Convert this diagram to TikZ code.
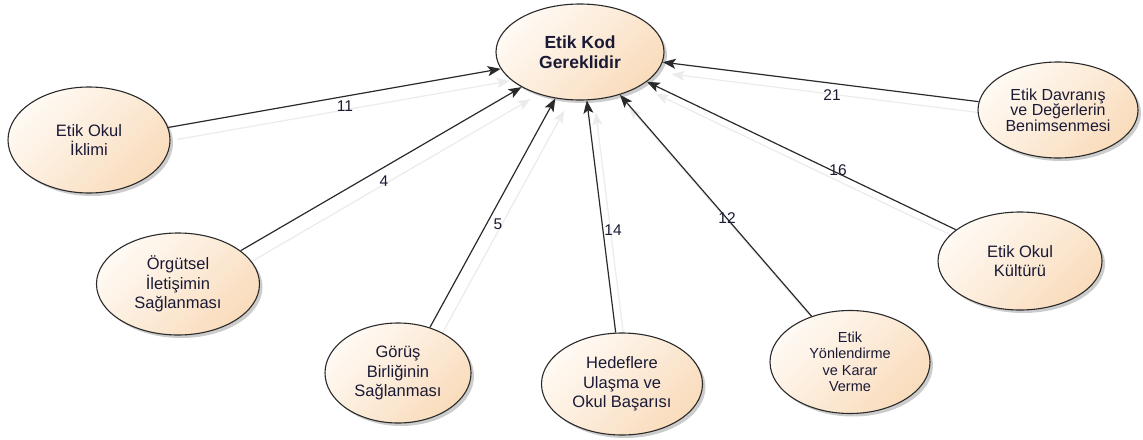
\documentclass[tikz,border=0pt]{standalone}
\usepackage{fontspec}
\setmainfont{Liberation Sans}
\usetikzlibrary{shapes.geometric,arrows.meta,shadows}
\pgfdeclarelayer{bg}
\pgfsetlayers{bg,main}
\definecolor{txt}{HTML}{1A1A36}
\definecolor{linec}{HTML}{2A2A2A}
\definecolor{fillA}{HTML}{FFFAF4}
\definecolor{fillB}{HTML}{F9DCBC}
\definecolor{shadowline}{HTML}{EBEBEB}
\tikzset{
  ell/.style={ellipse, draw=linec, line width=1.1pt, top color=fillA, bottom color=fillB, shading angle=45,
    align=center, inner sep=0pt, text=txt, font=\fontsize{16.5}{19.5}\selectfont,
    drop shadow={shadow xshift=3pt, shadow yshift=-3pt, opacity=0.2, fill=black}},
  conn/.style={draw=linec, line width=1.2pt, -{Stealth[length=13pt,width=10pt,inset=3pt]}},
  ghost/.style={draw=shadowline, line width=1.2pt, -{Stealth[length=13pt,width=10pt,inset=3pt]}},
  lbl/.style={text=txt, font=\fontsize{15.5}{18}\selectfont, inner sep=0pt}
}
\begin{document}
\begin{tikzpicture}[x=1pt,y=-1pt]
\useasboundingbox (0,0) rectangle (1143,439);
% nodes
\node[ell, minimum width=168pt, minimum height=96pt, font=\bfseries\fontsize{17.5}{20.5}\selectfont] (C) at (580,52) {Etik Kod\\Gereklidir};
\node[ell, minimum width=162pt, minimum height=106pt] (A) at (89,140) {Etik Okul\\İklimi};
\node[ell, minimum width=163pt, minimum height=102pt] (O) at (178,284) {Örgütsel\\İletişimin\\Sağlanması};
\node[ell, minimum width=146pt, minimum height=100pt] (G) at (398,373) {Görüş\\Birliğinin\\Sağlanması};
\node[ell, minimum width=161pt, minimum height=102pt] (H) at (622,384) {Hedeflere\\Ulaşma ve\\Okul Başarısı};
\node[ell, minimum width=160pt, minimum height=103pt, font=\fontsize{14.5}{16.5}\selectfont] (Y) at (850,362) {Etik\\Yönlendirme\\ve Karar\\Verme};
\node[ell, minimum width=164pt, minimum height=98pt] (K) at (1020,261) {Etik Okul\\Kültürü};
\node[ell, minimum width=160pt, minimum height=96pt, font=\fontsize{16}{15.5}\selectfont] (D) at (1058,110) {Etik Davranış\\ve Değerlerin\\Benimsenmesi};
% ghost connectors (shadows), behind the ellipses
\begin{pgfonlayer}{bg}
\begin{scope}[transform canvas={xshift=9pt,yshift=-12pt}]
\draw[ghost] (A.9) -- (C.192);
\draw[ghost] (O.28) -- (C.211);
\draw[ghost] (G.55) -- (C.242);
\draw[ghost] (H.97) -- (C.278);
\draw[ghost] (Y.130) -- (C.313);
\draw[ghost] (K.154) -- (C.336);
\draw[ghost] (D.174) -- (C.353);
\end{scope}
\end{pgfonlayer}
% connectors
\draw[conn] (A.9) -- (C.192);
\draw[conn] (O.28) -- (C.211);
\draw[conn] (G.55) -- (C.242);
\draw[conn] (H.97) -- (C.278);
\draw[conn] (Y.130) -- (C.313);
\draw[conn] (K.154) -- (C.336);
\draw[conn] (D.174) -- (C.353);
% labels
\node[lbl] (l11) at (345,106) {11};
\node[lbl] (l4) at (384,181) {4};
\node[lbl] (l5) at (498,224) {5};
\node[lbl] (l14) at (613,230) {14};
\node[lbl] (l12) at (727,218) {12};
\node[lbl] (l16) at (838,170) {16};
\node[lbl] (l21) at (832,95) {21};
\end{tikzpicture}
\end{document}
